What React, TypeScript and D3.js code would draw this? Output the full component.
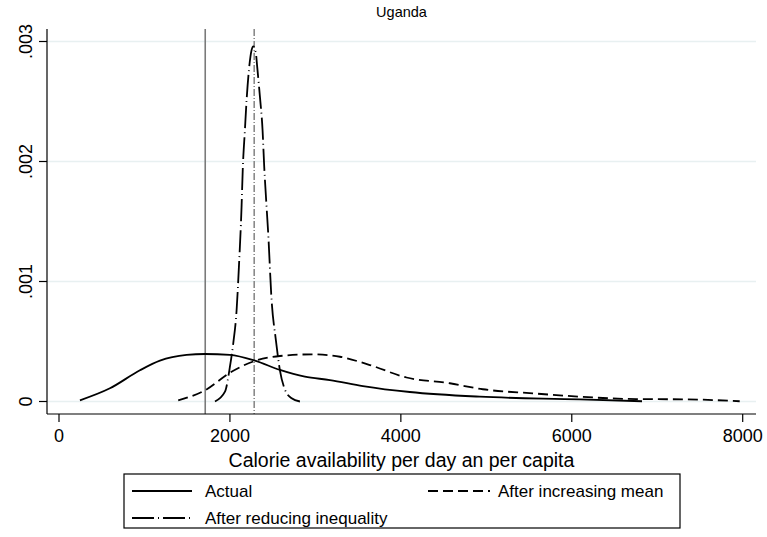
import React from "react";
import * as d3 from "d3";

// values (kernel densities of calories per capita)
const actual: [number, number][] = [
  [245, 0.00001], [596, 0.00011], [947, 0.00026], [1181, 0.00034], [1493, 0.000388],
  [1708, 0.000396], [2000, 0.000388], [2292, 0.00034], [2585, 0.000263], [2877, 0.000207],
  [3170, 0.000179], [3556, 0.000129], [4105, 0.000079], [4924, 0.00004], [6094, 0.000018],
  [6822, 0.000002],
];
const increasedMean: [number, number][] = [
  [1395, 0.00001], [1708, 0.000093], [2000, 0.00024], [2292, 0.000338], [2585, 0.000379],
  [2975, 0.000393], [3287, 0.000373], [3637, 0.000304], [4066, 0.0002], [4573, 0.000152],
  [4959, 0.000102], [5544, 0.000068], [6094, 0.00004], [6757, 0.00002], [7342, 0.000018],
  [7965, 0.000002],
];
const reducedInequality: [number, number][] = [
  [1825, 0], [1942, 0.000082], [2000, 0.00029], [2039, 0.000485], [2078, 0.00076],
  [2105, 0.00112], [2136, 0.00162], [2150, 0.00193], [2175, 0.00226], [2195, 0.00251],
  [2222, 0.00276], [2254, 0.00293], [2273, 0.00296], [2304, 0.0029], [2319, 0.00279],
  [2351, 0.00254], [2382, 0.00226], [2401, 0.00196], [2429, 0.00162], [2448, 0.0014],
  [2487, 0.00085], [2538, 0.00051], [2585, 0.00026], [2643, 0.0001], [2722, 0.000027],
  [2819, 0],
];
const povertyLine = 1711;
const meanLine = 2284;
const xTicks = [0, 2000, 4000, 6000, 8000];
const yTicks = [0, 0.001, 0.002, 0.003];
const yTickLabels = ["0", ".001", ".002", ".003"];

const W = 767, H = 537;
const plot = { left: 47, right: 756, top: 29, bottom: 414 };
const FONT = "'Liberation Sans', Arial, Helvetica, sans-serif";

export default function App() {
  const x = d3.scaleLinear().domain([0, 8000]).range([59, 742.7]);
  const y = d3.scaleLinear().domain([0, 0.003]).range([401.5, 41.5]);
  const line = d3.line<[number, number]>()
    .x(d => x(d[0]))
    .y(d => y(d[1]))
    .curve(d3.curveMonotoneX);

  const dashDot = "22,4,1,4";
  const dashed = "10,5";

  return (
    <svg width={W} height={H} style={{ position: "absolute", left: 0, top: 0, background: "#fff" }}
      fontFamily={FONT}>
      <rect width={W} height={H} fill="#fff" />
      <text x={(plot.left + plot.right) / 2} y={17} textAnchor="middle" fontSize={14.5}>Uganda</text>

      {/* grid */}
      {yTicks.map(t => (
        <line key={"g" + t} x1={plot.left} x2={plot.right} y1={y(t)} y2={y(t)}
          stroke="#e8f0f1" strokeWidth={1.5} />
      ))}

      {/* reference lines */}
      <line x1={x(povertyLine)} x2={x(povertyLine)} y1={plot.top} y2={plot.bottom}
        stroke="#7a7a7a" strokeWidth={1.6} />
      <line x1={x(meanLine)} x2={x(meanLine)} y1={plot.top} y2={plot.bottom}
        stroke="#8a8a8a" strokeWidth={1.6} strokeDasharray="7,2,1,2" />

      {/* curves */}
      <path d={line(actual) || ""} fill="none" stroke="#000" strokeWidth={1.8} />
      <path d={line(increasedMean) || ""} fill="none" stroke="#000" strokeWidth={1.8} strokeDasharray={dashed} />
      <path d={line(reducedInequality) || ""} fill="none" stroke="#000" strokeWidth={1.8} strokeDasharray={dashDot} />

      {/* axes */}
      <line x1={plot.left} x2={plot.left} y1={plot.top} y2={plot.bottom} stroke="#000" strokeWidth={1.2} />
      <line x1={plot.left} x2={plot.right} y1={plot.bottom} y2={plot.bottom} stroke="#000" strokeWidth={1.2} />
      {yTicks.map((t, i) => (
        <g key={"y" + t}>
          <line x1={plot.left - 8} x2={plot.left} y1={y(t)} y2={y(t)} stroke="#000" strokeWidth={1.2} />
          <text transform={`translate(${32},${y(t)}) rotate(-90)`} textAnchor="middle" fontSize={18}>
            {yTickLabels[i]}
          </text>
        </g>
      ))}
      {xTicks.map(t => (
        <g key={"x" + t}>
          <line x1={x(t)} x2={x(t)} y1={plot.bottom} y2={plot.bottom + 8} stroke="#000" strokeWidth={1.2} />
          <text x={x(t)} y={442} textAnchor="middle" fontSize={18}>{t}</text>
        </g>
      ))}
      <text x={(plot.left + plot.right) / 2} y={467} textAnchor="middle" fontSize={19.5}>
        Calorie availability per day an per capita
      </text>

      {/* legend */}
      <rect x={124} y={474} width={556} height={54} fill="#fff" stroke="#000" strokeWidth={1.2} />
      <line x1={132} x2={192} y1={491} y2={491} stroke="#000" strokeWidth={1.8} />
      <text x={205} y={497} fontSize={17}>Actual</text>
      <line x1={428} x2={490} y1={491} y2={491} stroke="#000" strokeWidth={1.8} strokeDasharray={dashed} />
      <text x={498} y={497} fontSize={17}>After increasing mean</text>
      <line x1={132} x2={192} y1={518} y2={518} stroke="#000" strokeWidth={1.8} strokeDasharray={dashDot} />
      <text x={205} y={524} fontSize={17}>After reducing inequality</text>
    </svg>
  );
}
